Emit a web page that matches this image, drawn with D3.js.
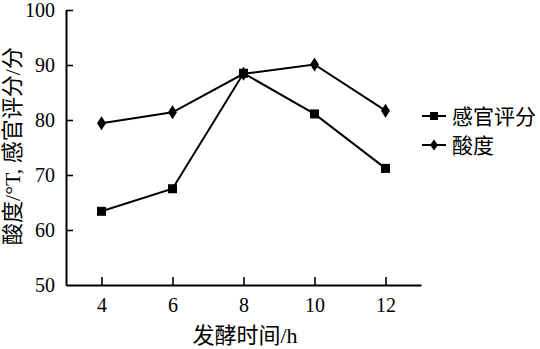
<!DOCTYPE html>
<html>
<head>
<meta charset="utf-8">
<script src="https://cdn.jsdelivr.net/npm/d3@7"></script>
<style>
  body { margin: 0; background: #fff; }
  svg { display: block; }
</style>
</head>
<body>
<svg id="chart" width="540" height="349"></svg>
<script>
const hours = [4, 6, 8, 10, 12];
const sensoryScore = [63.4, 67.5, 88.5, 81.1, 71.2];
const acidity = [79.4, 81.4, 88.4, 90.1, 81.7];
const xTicks = [4, 6, 8, 10, 12];
const yTicks = [50, 60, 70, 80, 90, 100];
const seriesNames = ["感官评分", "酸度"];
const xTitle = "发酵时间/h";
const yTitle = "酸度/°T, 感官评分/分";

const svg = d3.select("#chart");
const serif = "'Liberation Serif', 'Times New Roman', 'Noto Sans CJK SC', serif";

const x = d3.scaleLinear().domain([3, 13]).range([66, 421]);
const y = d3.scaleLinear().domain([50, 100]).range([285, 10]);

// axes
const yAxis = d3.axisLeft(y).tickValues(yTicks).tickSize(-7).tickSizeOuter(0).tickPadding(11);
const gy = svg.append("g").attr("transform", `translate(${x(3)},0)`).call(yAxis);
const xAxis = d3.axisBottom(x).tickValues(xTicks).tickSize(-8).tickSizeOuter(0).tickPadding(13);
const gx = svg.append("g").attr("transform", `translate(0,${y(50)})`).call(xAxis);

[gy, gx].forEach(g => {
  g.attr("font-family", null);
  g.selectAll("path.domain").attr("stroke", "#000").attr("stroke-width", 2);
  g.selectAll(".tick line").attr("stroke", "#000").attr("stroke-width", 1.6);
  g.selectAll(".tick text").attr("fill", "#000").style("font-family", serif).style("font-size", "20px");
});
gy.selectAll(".tick").filter(d => d === 50).select("line").remove();

// lines
const line = d3.line().x((d, i) => x(hours[i])).y(d => y(d));
svg.append("path").datum(sensoryScore).attr("d", line)
  .attr("fill", "none").attr("stroke", "#000").attr("stroke-width", 2);
svg.append("path").datum(acidity).attr("d", line)
  .attr("fill", "none").attr("stroke", "#000").attr("stroke-width", 2);

// markers
function square(g, cx, cy, s) {
  g.append("rect").attr("x", cx - s / 2).attr("y", cy - s / 2).attr("width", s).attr("height", s).attr("fill", "#000");
}
function diamond(g, cx, cy, w, h) {
  g.append("path").attr("d", `M${cx},${cy - h / 2}L${cx + w / 2},${cy}L${cx},${cy + h / 2}L${cx - w / 2},${cy}Z`).attr("fill", "#000");
}
const mg = svg.append("g");
sensoryScore.forEach((v, i) => square(mg, x(hours[i]), y(v), 9));
acidity.forEach((v, i) => diamond(mg, x(hours[i]), y(v), 9, 14));

// legend
const legendY = [116, 145];
seriesNames.forEach((name, i) => {
  const ly = legendY[i];
  svg.append("line").attr("x1", 422).attr("x2", 446).attr("y1", ly).attr("y2", ly)
    .attr("stroke", "#000").attr("stroke-width", 2);
  if (i === 0) square(svg, 434, ly, 8); else diamond(svg, 434, ly, 8, 11);
  svg.append("text").attr("x", 452).attr("y", ly + 7.5).text(name)
    .style("font-family", serif).style("font-size", "21px").attr("fill", "#000");
});

// titles
svg.append("text").attr("x", 245).attr("y", 343).attr("text-anchor", "middle")
  .text(xTitle).style("font-family", serif).style("font-size", "22px").attr("fill", "#000");
svg.append("text").attr("transform", "translate(20,146) rotate(-90)").attr("text-anchor", "middle")
  .text(yTitle).style("font-family", serif).style("font-size", "22px").attr("fill", "#000");
</script>
</body>
</html>
